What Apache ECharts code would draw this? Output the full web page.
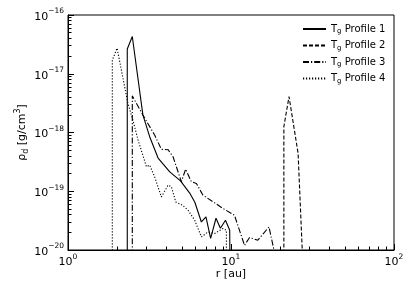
<!DOCTYPE html>
<html>
<head>
<meta charset="utf-8">
<script src="https://cdn.jsdelivr.net/npm/echarts@6/dist/echarts.min.js"></script>
<style>html,body{margin:0;padding:0;background:#fff;}#c{width:415px;height:297px;}</style>
</head>
<body>
<div id="c"></div>
<script>
// Profile 1 (solid)
const p1R   = [2.31, 2.31, 2.48, 2.88, 3.17, 3.57, 4.21, 4.9, 5.58, 6.0, 6.58, 7.02, 7.5, 8.09, 8.61, 9.25, 9.82, 9.95];
const p1Rho = [1e-22, 2.63e-17, 4.31e-17, 1.99e-18, 8.48e-19, 3.67e-19, 2.14e-19, 1.5e-19, 9.3e-20, 6.5e-20, 3.0e-20, 3.66e-20, 1.58e-20, 3.47e-20, 2.35e-20, 3.21e-20, 2.17e-20, 1e-22];
// Profile 2 (dashed)
const p2R   = [21.1, 21.1, 22.7, 25.8, 27.4];
const p2Rho = [1e-22, 1.26e-18, 4.08e-18, 4.42e-19, 9e-21];
// Profile 3 (dash-dot)
const p3R   = [2.48, 2.48, 2.88, 3.40, 3.74, 4.11, 4.41, 4.96, 5.27, 5.71, 6.13, 6.73, 7.94, 8.93, 10.5, 12.1, 13.0, 14.6, 17.1, 18.5];
const p3Rho = [1e-22, 4.2e-18, 1.99e-18, 9.06e-19, 5.17e-19, 5.1e-19, 3.86e-19, 1.45e-19, 2.38e-19, 1.45e-19, 1.36e-19, 8.58e-20, 6.34e-20, 5.09e-20, 3.91e-20, 1.2e-20, 1.63e-20, 1.47e-20, 2.47e-20, 9e-21];
// Profile 4 (dotted)
const p4R   = [1.87, 1.87, 2.0, 2.33, 2.50, 2.69, 3.03, 3.17, 3.40, 3.74, 4.11, 4.31, 4.58, 5.03, 5.45, 5.99, 6.58, 7.23, 7.94, 8.93, 9.37, 9.37];
const p4Rho = [1e-22, 1.7e-17, 2.73e-17, 3.15e-18, 1.63e-18, 7.45e-19, 2.61e-19, 2.79e-19, 1.76e-19, 8.02e-20, 1.27e-19, 1.19e-19, 6.59e-20, 5.79e-20, 4.76e-20, 3.21e-20, 1.67e-20, 2.03e-20, 1.91e-20, 2.32e-20, 2.17e-20, 1e-22];

const names = ['T{sub|g} Profile 1', 'T{sub|g} Profile 2', 'T{sub|g} Profile 3', 'T{sub|g} Profile 4'];
const seriesNames = ['Tg Profile 1', 'Tg Profile 2', 'Tg Profile 3', 'Tg Profile 4'];
const xMajor = [1, 10, 100];
const yMajor = [1e-20, 1e-19, 1e-18, 1e-17, 1e-16];

const xMinor = [];
for (let d = 0; d < 2; d++) for (let k = 2; k <= 9; k++) xMinor.push(k * Math.pow(10, d));
const yMinor = [];
for (let d = -20; d < -16; d++) for (let k = 2; k <= 9; k++) yMinor.push(k * Math.pow(10, d));

const zip = (a, b) => a.map((v, i) => [v, b[i]]);
const FONT = 'DejaVu Sans';
const fmt = v => {
  const e = Math.round(Math.log10(v));
  return '{b|10}{s|' + (e < 0 ? '\u2212' + (-e) : e) + '}';
};
const labelRich = {
  b: {fontSize: 11, fontFamily: FONT, color: '#000', lineHeight: 15, verticalAlign: 'bottom'},
  s: {fontSize: 7.5, fontFamily: FONT, color: '#000', lineHeight: 15, verticalAlign: 'top'}
};

const chart = echarts.init(document.getElementById('c'), null, {renderer: 'canvas'});
const dashes = ['solid', [4, 2], [6, 2, 1.2, 2], [1.2, 1.8]];
const datas = [zip(p1R, p1Rho), zip(p2R, p2Rho), zip(p3R, p3Rho), zip(p4R, p4Rho)];

chart.setOption({
  animation: false,
  backgroundColor: '#fff',
  grid: {left: 68, right: 21, top: 15, bottom: 47, show: true, borderColor: '#000', borderWidth: 1, backgroundColor: 'transparent'},
  legend: {
    orient: 'vertical', left: 297, top: 18, itemWidth: 23, itemHeight: 10, itemGap: 4.5,
    data: seriesNames.map(n => ({name: n, itemStyle: {opacity: 0}})),
    itemStyle: {opacity: 0},
    formatter: n => names[seriesNames.indexOf(n)],
    textStyle: {fontFamily: FONT, fontSize: 10, color: '#000', lineHeight: 12,
      rich: {sub: {fontSize: 7, fontFamily: FONT, color: '#000', verticalAlign: 'bottom', lineHeight: 12}}}
  },
  xAxis: [{
    type: 'log', logBase: 10, min: 1, max: 100, position: 'bottom',
    name: 'r [au]', nameLocation: 'middle', nameGap: 19, nameMoveOverlap: false,
    nameTextStyle: {fontFamily: FONT, fontSize: 11, color: '#000'},
    axisLine: {show: true, lineStyle: {color: '#000', width: 1}},
    axisTick: {show: true, inside: true, length: 6, lineStyle: {color: '#000', width: 1}, customValues: xMajor},
    axisLabel: {show: true, margin: 3, customValues: xMajor, formatter: fmt, rich: labelRich},
    splitLine: {show: false}, minorTick: {show: false}
  }, {
    type: 'log', logBase: 10, min: 1, max: 100, position: 'bottom',
    axisLine: {show: false},
    axisTick: {show: true, inside: true, length: 3.5, lineStyle: {color: '#000', width: 1}, customValues: xMinor},
    axisLabel: {show: false}, splitLine: {show: false}
  }],
  yAxis: [{
    type: 'log', logBase: 10, min: 1e-20, max: 1e-16, position: 'left',
    name: '{n|ρ}{sub|d}{n| [g/cm}{sup|3}{n|]}', nameLocation: 'middle', nameGap: 38,
    nameMoveOverlap: false,
    nameTextStyle: {fontFamily: FONT, fontSize: 11, color: '#000',
      rich: {
        n: {fontFamily: FONT, fontSize: 11, color: '#000', lineHeight: 16, verticalAlign: 'middle'},
        sub: {fontFamily: FONT, fontSize: 8, color: '#000', lineHeight: 16, verticalAlign: 'bottom'},
        sup: {fontFamily: FONT, fontSize: 8, color: '#000', lineHeight: 16, verticalAlign: 'top'}
      }},
    axisLine: {show: true, lineStyle: {color: '#000', width: 1}},
    axisTick: {show: true, inside: true, length: 6, lineStyle: {color: '#000', width: 1}, customValues: yMajor},
    axisLabel: {show: true, margin: 4, customValues: yMajor, formatter: fmt, rich: labelRich},
    splitLine: {show: false}, minorTick: {show: false}
  }, {
    type: 'log', logBase: 10, min: 1e-20, max: 1e-16, position: 'left',
    axisLine: {show: false},
    axisTick: {show: true, inside: true, length: 3.5, lineStyle: {color: '#000', width: 1}, customValues: yMinor},
    axisLabel: {show: false}, splitLine: {show: false}
  }],
  series: datas.map((d, i) => ({
    name: seriesNames[i], type: 'line', xAxisIndex: 0, yAxisIndex: 0,
    data: d, symbol: 'none', showSymbol: false, clip: true,
    itemStyle: {color: '#000'},
    lineStyle: {color: '#000', width: 1.1, type: dashes[i]}
  }))
});
</script>
</body>
</html>
